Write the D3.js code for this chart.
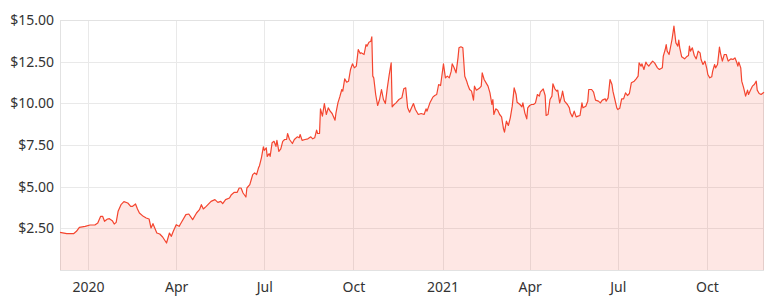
<!DOCTYPE html>
<html>
<head>
<meta charset="utf-8">
<script src="https://cdn.jsdelivr.net/npm/d3@7"></script>
<style>
  body { margin: 0; background: #fff; }
  #main { width: 780px; height: 304px; }
  text { font-family: "Noto Sans", "DejaVu Sans", sans-serif; }
</style>
</head>
<body>
<div id="main"></div>
<script>

//=============== DATA ===================
var dates = [
  "2019-12-03","2019-12-10","2019-12-17","2019-12-20","2019-12-23","2019-12-29",
  "2020-01-03","2020-01-08","2020-01-11","2020-01-14","2020-01-16","2020-01-18","2020-01-21","2020-01-23","2020-01-26","2020-01-28","2020-01-30",
  "2020-02-01","2020-02-04","2020-02-07","2020-02-11","2020-02-14","2020-02-16","2020-02-19","2020-02-21","2020-02-23","2020-02-27",
  "2020-03-01","2020-03-04","2020-03-06","2020-03-08","2020-03-12","2020-03-15","2020-03-18","2020-03-22","2020-03-25","2020-03-27","2020-03-29",
  "2020-04-01","2020-04-04","2020-04-06","2020-04-11","2020-04-14","2020-04-18","2020-04-22","2020-04-25","2020-04-27","2020-04-29",
  "2020-05-02","2020-05-07","2020-05-11","2020-05-14","2020-05-17","2020-05-19","2020-05-22","2020-05-26","2020-05-28","2020-05-31",
  "2020-06-03","2020-06-05","2020-06-07","2020-06-09","2020-06-12","2020-06-13","2020-06-16","2020-06-18","2020-06-19","2020-06-21","2020-06-23","2020-06-25","2020-06-26","2020-06-28","2020-06-30",
  "2020-07-01","2020-07-03","2020-07-04","2020-07-06","2020-07-07","2020-07-09","2020-07-11","2020-07-13","2020-07-14","2020-07-16","2020-07-18","2020-07-20","2020-07-22","2020-07-24","2020-07-25","2020-07-27","2020-07-30",
  "2020-08-01","2020-08-04","2020-08-06","2020-08-07","2020-08-09","2020-08-12","2020-08-15","2020-08-18","2020-08-20","2020-08-22","2020-08-24","2020-08-25","2020-08-27","2020-08-28","2020-08-30",
  "2020-09-01","2020-09-03","2020-09-05","2020-09-07","2020-09-09","2020-09-12","2020-09-13","2020-09-15","2020-09-17","2020-09-19","2020-09-20","2020-09-22","2020-09-24","2020-09-26","2020-09-28","2020-09-30",
  "2020-10-02","2020-10-04","2020-10-06","2020-10-08","2020-10-09","2020-10-12","2020-10-14","2020-10-15","2020-10-17","2020-10-19","2020-10-20","2020-10-21","2020-10-22","2020-10-24","2020-10-26","2020-10-28","2020-10-30",
  "2020-11-01","2020-11-03","2020-11-05","2020-11-07","2020-11-09","2020-11-10","2020-11-12","2020-11-14","2020-11-17","2020-11-20","2020-11-22","2020-11-24","2020-11-26","2020-11-28","2020-11-30",
  "2020-12-02","2020-12-04","2020-12-07","2020-12-10","2020-12-13","2020-12-15","2020-12-16","2020-12-19","2020-12-22","2020-12-24","2020-12-26","2020-12-28","2020-12-30",
  "2021-01-02","2021-01-04","2021-01-06","2021-01-08","2021-01-10","2021-01-11","2021-01-13","2021-01-15","2021-01-17","2021-01-18","2021-01-20","2021-01-22","2021-01-24","2021-01-26","2021-01-27","2021-01-29","2021-01-31",
  "2021-02-02","2021-02-03","2021-02-05","2021-02-08","2021-02-10","2021-02-11","2021-02-13","2021-02-15","2021-02-17","2021-02-19","2021-02-21","2021-02-22","2021-02-23","2021-02-25","2021-02-27",
  "2021-03-01","2021-03-03","2021-03-05","2021-03-06","2021-03-08","2021-03-10","2021-03-12","2021-03-14","2021-03-16","2021-03-18","2021-03-19","2021-03-22","2021-03-24","2021-03-25","2021-03-27","2021-03-29","2021-03-30",
  "2021-04-01","2021-04-03","2021-04-05","2021-04-07","2021-04-09","2021-04-11","2021-04-12","2021-04-15","2021-04-17","2021-04-18","2021-04-20","2021-04-22","2021-04-24","2021-04-25","2021-04-27","2021-04-29","2021-04-30",
  "2021-05-02","2021-05-04","2021-05-05","2021-05-07","2021-05-10","2021-05-12","2021-05-13","2021-05-15","2021-05-17","2021-05-19","2021-05-21","2021-05-23","2021-05-25","2021-05-26","2021-05-29","2021-05-31",
  "2021-06-01","2021-06-04","2021-06-06","2021-06-08","2021-06-11","2021-06-13","2021-06-15","2021-06-18","2021-06-19","2021-06-21","2021-06-23","2021-06-25","2021-06-26","2021-06-28","2021-06-30",
  "2021-07-01","2021-07-03","2021-07-05","2021-07-07","2021-07-09","2021-07-11","2021-07-13","2021-07-15","2021-07-18","2021-07-20","2021-07-22","2021-07-23","2021-07-25","2021-07-26","2021-07-28","2021-07-30","2021-07-31",
  "2021-08-02","2021-08-04","2021-08-06","2021-08-08","2021-08-11","2021-08-13","2021-08-16","2021-08-17","2021-08-19","2021-08-20","2021-08-21","2021-08-23","2021-08-24","2021-08-26","2021-08-27","2021-08-28","2021-08-30",
  "2021-09-01","2021-09-02","2021-09-03","2021-09-05","2021-09-08","2021-09-10","2021-09-12","2021-09-13","2021-09-14","2021-09-16","2021-09-18","2021-09-20","2021-09-22","2021-09-24","2021-09-25","2021-09-27","2021-09-29",
  "2021-10-01","2021-10-02","2021-10-04","2021-10-06","2021-10-07","2021-10-09","2021-10-10","2021-10-12","2021-10-13","2021-10-14","2021-10-15","2021-10-17","2021-10-19","2021-10-21","2021-10-23","2021-10-25","2021-10-26","2021-10-28","2021-10-30",
  "2021-11-01","2021-11-02","2021-11-03","2021-11-05","2021-11-06","2021-11-08","2021-11-10","2021-11-12","2021-11-13","2021-11-15","2021-11-17","2021-11-19","2021-11-21","2021-11-22","2021-11-24","2021-11-26","2021-11-29"
];

var prices = [
  2.26,2.18,2.18,2.32,2.56,2.62,
  2.70,2.70,2.82,3.22,3.22,2.92,3.06,3.08,2.96,2.76,2.86,
  3.52,3.92,4.10,4.02,3.82,3.82,3.96,3.66,3.42,3.22,
  3.12,3.06,2.52,2.78,2.22,2.16,1.98,1.62,2.22,2.02,2.32,
  2.72,2.62,2.82,3.32,3.36,3.02,3.42,3.62,3.92,3.66,
  3.82,4.12,4.22,4.06,4.12,3.98,4.22,4.32,4.52,4.66,
  4.66,4.92,4.92,4.62,4.38,4.92,5.12,5.52,5.72,5.83,5.72,6.13,6.26,6.73,7.39,
  7.18,7.33,6.82,6.98,6.82,7.63,7.72,7.42,7.78,7.12,7.27,7.72,7.83,7.83,8.19,7.83,7.59,
  7.83,7.99,7.93,8.13,7.78,7.83,7.87,7.99,7.87,7.93,8.39,8.19,8.19,9.67,9.23,
  9.99,9.33,9.73,9.53,9.39,8.99,9.43,10.03,10.40,10.83,10.73,11.47,11.27,11.33,12.03,12.37,
  12.13,12.23,13.23,12.99,13.03,12.93,13.53,13.43,13.67,13.73,13.99,11.63,11.53,10.53,9.87,10.23,10.83,
  10.23,9.99,10.93,11.73,12.43,9.79,9.93,10.03,10.23,10.33,10.87,10.93,9.73,9.47,9.73,
  9.99,9.63,9.33,9.39,9.33,9.67,9.53,10.03,10.37,10.47,10.53,11.13,11.07,
  12.37,11.53,11.63,11.53,11.93,12.37,12.13,11.83,12.73,13.33,13.39,13.33,11.63,11.33,11.13,10.83,10.73,
  10.19,11.03,10.79,10.90,11.03,11.83,11.43,11.23,11.03,10.63,9.93,10.23,9.33,9.67,9.59,
  9.33,9.19,8.47,8.27,8.93,8.67,9.13,9.83,10.93,10.53,10.07,9.93,9.79,10.03,9.43,9.07,9.73,
  9.87,9.93,9.93,10.03,10.53,10.43,10.67,10.87,10.47,9.27,9.33,10.23,10.43,11.17,10.87,10.73,10.79,
  10.03,10.43,10.73,10.13,9.93,9.73,9.43,9.19,9.53,9.19,9.23,9.27,10.03,9.73,9.83,10.13,
  10.83,10.83,10.67,10.19,10.13,10.03,10.19,10.27,10.13,10.33,11.43,11.13,10.73,10.23,9.73,
  9.63,9.70,10.27,10.27,10.63,10.47,10.59,11.23,11.33,11.47,11.63,12.43,12.23,12.37,12.03,12.47,12.37,
  12.23,12.39,12.53,12.43,12.13,12.03,12.13,12.83,13.23,13.53,13.13,12.93,13.23,13.83,14.23,14.63,13.63,
  13.43,13.79,13.33,12.79,12.67,12.79,12.87,13.43,13.13,13.33,12.87,12.67,13.13,13.03,12.63,12.33,12.53,
  12.07,11.73,11.53,11.59,11.93,12.33,12.13,12.33,12.83,13.37,13.03,12.53,12.93,12.93,12.53,12.63,12.67,12.63,12.73,
  12.43,12.23,12.47,12.13,11.33,10.93,10.43,10.79,10.53,10.79,11.03,11.13,11.33,10.79,10.59,10.53,10.67
];

var yTicks = [2.5, 5, 7.5, 10, 12.5, 15];
var yMax = 15;

//=============== SETUP ===================
var margin = {top: 20, right: 16, bottom: 34, left: 60},
    width = 780 - margin.left - margin.right,
    height = 304 - margin.top - margin.bottom;

var parse = d3.timeParse("%Y-%m-%d");
var data = dates.map(function(d, i){
  return {date: parse(d), value: prices[i]};
});

var svg = d3.select("#main").append("svg")
    .attr("width", width + margin.left + margin.right)
    .attr("height", height + margin.top + margin.bottom)
  .append("g")
    .attr("transform", "translate(" + margin.left + "," + margin.top + ")");

var x = d3.scaleTime()
    .domain(d3.extent(data, function(d){ return d.date; }))
    .range([0, width]);

var y = d3.scaleLinear()
    .domain([0, yMax])
    .range([height, 0]);

var xTicks = d3.timeMonth.every(3).range(x.domain()[0], x.domain()[1]);

var fmtTick = function(d){
  return d.getMonth() === 0 ? d3.timeFormat("%Y")(d) : d3.timeFormat("%b")(d);
};

//=============== GRID ===================
var grid = svg.append("g").attr("class", "grid");

grid.selectAll(".hgrid")
  .data(yTicks)
  .enter().append("line")
  .attr("x1", 0)
  .attr("x2", width)
  .attr("y1", function(d){ return Math.round(y(d)) + 0.5; })
  .attr("y2", function(d){ return Math.round(y(d)) + 0.5; })
  .attr("stroke", "#e9e9e9");

grid.selectAll(".vgrid")
  .data(xTicks)
  .enter().append("line")
  .attr("y1", 0)
  .attr("y2", height)
  .attr("x1", function(d){ return Math.round(x(d)) + 0.5; })
  .attr("x2", function(d){ return Math.round(x(d)) + 0.5; })
  .attr("stroke", "#e9e9e9");

svg.append("rect")
  .attr("x", 0.5)
  .attr("y", 0.5)
  .attr("width", width - 1)
  .attr("height", height)
  .attr("fill", "none")
  .attr("stroke", "#e2e2e2");

//=============== AREA + LINE ===================
var area = d3.area()
  .x(function(d){ return x(d.date); })
  .y0(y(0))
  .y1(function(d){ return y(d.value); });

var line = d3.line()
  .x(function(d){ return x(d.date); })
  .y(function(d){ return y(d.value); });

svg.append("path")
  .datum(data)
  .attr("d", area)
  .attr("fill", "rgba(244,69,47,0.13)");

svg.append("path")
  .datum(data)
  .attr("d", line)
  .attr("fill", "none")
  .attr("stroke", "#f4452f")
  .attr("stroke-width", 1.2)
  .attr("stroke-linejoin", "round");

//=============== AXES ===================
var yAxis = d3.axisLeft(y)
  .tickValues(yTicks)
  .tickSize(0)
  .tickPadding(6)
  .tickFormat(d3.format("$.2f"));

svg.append("g")
  .attr("class", "y-axis")
  .call(yAxis)
  .call(function(g){ g.select(".domain").remove(); })
  .selectAll("text")
  .attr("fill", "#333")
  .style("font-size", "14px");

var xAxis = d3.axisBottom(x)
  .tickValues(xTicks)
  .tickSize(0)
  .tickPadding(12)
  .tickFormat(fmtTick);

svg.append("g")
  .attr("class", "x-axis")
  .attr("transform", "translate(0," + height + ")")
  .call(xAxis)
  .call(function(g){ g.select(".domain").remove(); })
  .selectAll("text")
  .attr("fill", "#333")
  .style("font-size", "14px");

</script>
</body>
</html>
